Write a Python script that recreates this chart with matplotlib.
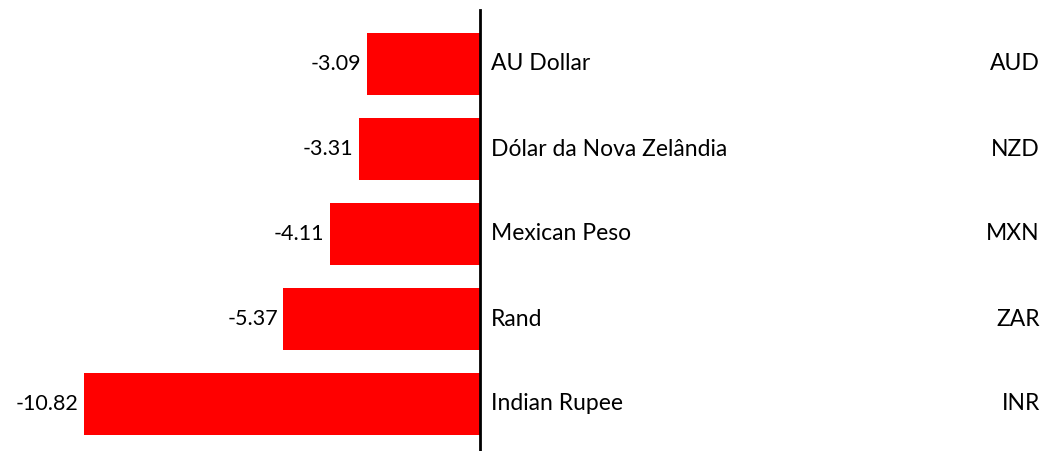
import matplotlib
matplotlib.use("Agg")
import matplotlib.pyplot as plt

# data
names = ["AU Dollar", "Dólar da Nova Zelândia", "Mexican Peso", "Rand", "Indian Rupee"]
codes = ["AUD", "NZD", "MXN", "ZAR", "INR"]
values = [-3.09, -3.31, -4.11, -5.37, -10.82]

plt.rcParams['font.family'] = ['Lato', 'DejaVu Sans']

fig = plt.figure(figsize=(10.44, 4.51), dpi=100)
ax = fig.add_axes([0, 0, 1, 1])

ypos = list(range(len(names)))
ax.barh(ypos, values, height=0.73, color="#ff0000")

# x scale: 0 at pixel 480, 36.6 px per unit
ax.set_xlim(-480 / 36.6, (1044 - 480) / 36.6)
ax.set_ylim((451 - 64) / 85, -64 / 85)

ax.axvline(0, ymin=0, ymax=(451 - 10) / 451, color="black", linewidth=2)

fs = 16.5
for y, v, n, c in zip(ypos, values, names, codes):
    ax.annotate(f"{v:.2f}", (v, y), xytext=(-4, 0), textcoords="offset points",
                ha="right", va="center", fontsize=fs - 1)
    ax.annotate(n, (0, y), xytext=(8, 0), textcoords="offset points",
                ha="left", va="center", fontsize=fs)
    ax.text(0.996, y, c, transform=ax.get_yaxis_transform(),
            ha="right", va="center", fontsize=fs)

ax.axis("off")
fig.savefig("out.png", dpi=100)
